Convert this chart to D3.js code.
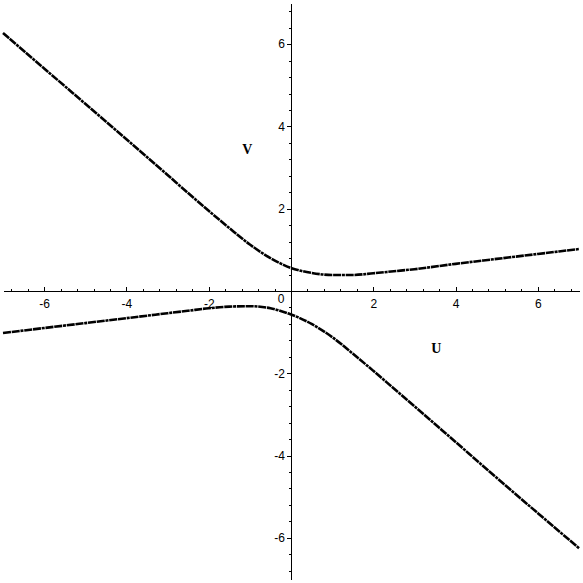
<!DOCTYPE html>
<html>
<head>
<meta charset="utf-8">
<script src="https://cdn.jsdelivr.net/npm/d3@7"></script>
<style>
  body { margin: 0; background: #fff; }
  .axis text { font-family: "Liberation Sans", Arial, sans-serif; font-size: 12px; fill: #000; }
  .axis path, .axis line { stroke: #000; stroke-width: 1; shape-rendering: crispEdges; }
  .curve { fill: none; stroke: #000; stroke-width: 2.6; stroke-dasharray: 8,0.8,8,0.8,3,0.8; }
  .lbl { font-family: "Liberation Serif", "Times New Roman", serif; font-weight: bold; font-size: 14px; }
</style>
</head>
<body>
<script>
//curve samples
var xs = [-7, -6, -5, -4, -3, -2.5, -2, -1.5, -1, -0.5, 0, 0.5, 1, 1.5, 2, 2.5, 3, 4, 5, 6, 7];
var vValues = [6.27, 5.41, 4.55, 3.69, 2.82, 2.38, 1.95, 1.53, 1.13, 0.80, 0.56, 0.44, 0.39, 0.39, 0.43, 0.48, 0.53, 0.66, 0.78, 0.90, 1.02];
var uValues = [-1.02, -0.90, -0.78, -0.66, -0.54, -0.48, -0.42, -0.38, -0.37, -0.42, -0.57, -0.80, -1.12, -1.52, -1.94, -2.37, -2.80, -3.67, -4.54, -5.40, -6.25];

//tick labels
var majorTicks = [-6, -4, -2, 2, 4, 6];

//curve names and where they sit
var curveLabels = ["V", "U"];
var labelX = [-1.06, 3.53];
var labelY = [3.32, -1.51];

var width = 583,
    height = 583;

var svg = d3.select("body")
    .append("svg")
    .attr("width", width)
    .attr("height", height);

var x = d3.scaleLinear().domain([-7, 7]).range([3, 579]);
var y = d3.scaleLinear().domain([-7, 7]).range([579, 3]);

var minorTicks = d3.range(-17, 18).map(function(i){ return i * 0.4; })
    .filter(function(d){ return Math.abs(d) > 0.01; });

//x axis, ticks point up
svg.append("g")
    .attr("class", "axis")
    .attr("transform", "translate(0," + y(0) + ")")
    .call(d3.axisBottom(x).tickValues(minorTicks).tickSize(-2).tickSizeOuter(0).tickFormat(""));

svg.append("g")
    .attr("class", "axis")
    .attr("transform", "translate(0," + y(0) + ")")
    .call(d3.axisBottom(x).tickValues(majorTicks).tickSize(-4).tickSizeOuter(0).tickPadding(8)
        .tickFormat(function(d){ return String(d); }));

//y axis, ticks point left
svg.append("g")
    .attr("class", "axis")
    .attr("transform", "translate(" + x(0) + ",0)")
    .call(d3.axisLeft(y).tickValues(minorTicks).tickSize(2).tickSizeOuter(0).tickFormat(""));

svg.append("g")
    .attr("class", "axis")
    .attr("transform", "translate(" + x(0) + ",0)")
    .call(d3.axisLeft(y).tickValues(majorTicks).tickSize(4).tickSizeOuter(0).tickPadding(2)
        .tickFormat(function(d){ return String(d); }));

//origin label
svg.append("text")
    .attr("x", x(0) - 10)
    .attr("y", y(0) + 12)
    .attr("text-anchor", "middle")
    .style("font-family", "Liberation Sans, Arial, sans-serif")
    .style("font-size", "12px")
    .text("0");

var line = d3.line()
    .x(function(d){ return x(d[0]); })
    .y(function(d){ return y(d[1]); })
    .curve(d3.curveMonotoneX);

[vValues, uValues].forEach(function(vals){
    svg.append("path")
        .datum(xs.map(function(xv, i){ return [xv, vals[i]]; }))
        .attr("class", "curve")
        .attr("d", line);
});

svg.selectAll(".lbl")
    .data(curveLabels)
    .enter()
    .append("text")
    .attr("class", "lbl")
    .attr("x", function(d, i){ return x(labelX[i]); })
    .attr("y", function(d, i){ return y(labelY[i]); })
    .attr("text-anchor", "middle")
    .text(function(d){ return d; });
</script>
</body>
</html>
